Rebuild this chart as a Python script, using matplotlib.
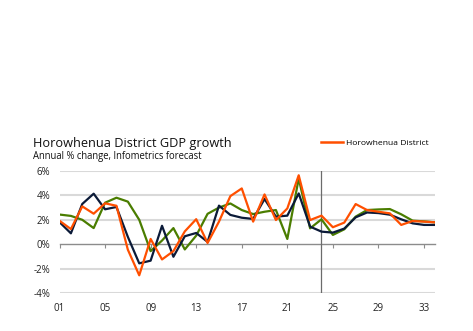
import matplotlib
matplotlib.use("Agg")
import matplotlib.pyplot as plt
from matplotlib.lines import Line2D

plt.rcParams['font.family'] = ['Open Sans', 'DejaVu Sans']

years = list(range(2001, 2035))
horowhenua = [1.92, 1.24, 3.10, 2.50, 3.35, 3.15, -0.45, -2.55, 0.43, -1.25,
              -0.57, 1.05, 2.05, 0.10, 1.85, 3.94, 4.57, 1.85, 4.08, 1.98,
              2.93, 5.65, 1.98, 2.34, 1.39, 1.77, 3.29, 2.80, 2.66, 2.53,
              1.58, 1.90, 1.85, 1.79]
navy_series = [1.81, 0.89, 3.30, 4.14, 2.86, 3.05, 0.60, -1.57, -1.35, 1.51,
               -1.03, 0.65, 0.92, 0.19, 3.16, 2.40, 2.17, 2.07, 3.70, 2.26,
               2.34, 4.16, 1.44, 1.03, 0.95, 1.28, 2.20, 2.60, 2.55, 2.42,
               2.04, 1.71, 1.58, 1.58]
green_series = [2.43, 2.32, 2.00, 1.32, 3.40, 3.81, 3.49, 2.00, -0.57, 0.30,
                1.32, -0.43, 0.70, 2.49, 3.00, 3.34, 2.80, 2.47, 2.66, 2.80,
                0.43, 5.38, 1.30, 2.04, 0.76, 1.22, 2.26, 2.80, 2.85, 2.88,
                2.45, 1.93, 1.87, 1.79]
yticks = [-4, -2, 0, 2, 4, 6]
xtick_years = list(range(2001, 2035, 4))
forecast_start = 2024

ORANGE = '#ff4f00'
NAVY = '#0b1a38'
GREEN = '#4a7d00'

fig = plt.figure(figsize=(4.73, 3.31), dpi=100)
ax = fig.add_axes([0.1258, 0.1148, 0.9205 - 0.1258, 0.4834 - 0.1148])

for y in yticks:
    if y != 0:
        ax.axhline(y, color='#d9d9d9', lw=1.5, zorder=0)
ax.axvline(forecast_start, color='#6b6b6b', lw=0.9, zorder=1)

ax.plot(years, green_series, color=GREEN, lw=1.6, zorder=3)
ax.plot(years, navy_series, color=NAVY, lw=1.6, zorder=4)
ax.plot(years, horowhenua, color=ORANGE, lw=1.6, zorder=5)

ax.set_xlim(2001, 2034)
ax.set_ylim(-4, 6)
ax.set_yticks(yticks)
ax.set_yticklabels([f"{v}%" for v in yticks])
ax.set_xticks(xtick_years)
ax.set_xticklabels([f"{y % 100:02d}" for y in xtick_years])
ax.tick_params(axis='both', length=0, labelsize=7, colors='#222222')
ax.tick_params(axis='y', pad=6.5)
ax.tick_params(axis='x', pad=7)
for s in ax.spines.values():
    s.set_visible(False)

# zero line doubles as the category axis with small tick marks
zero_axis = ax.secondary_xaxis(0.4)
zero_axis.set_xticks(xtick_years)
zero_axis.set_xticklabels([])
zero_axis.tick_params(length=3, width=0.8, color='#8c8c8c', direction='out')
zero_axis.spines['bottom'].set_color('#8c8c8c')
zero_axis.spines['bottom'].set_linewidth(1.0)

fig.text(33 / 473, 1 - 147 / 331, "Horowhenua District GDP growth",
         fontsize=9.2, va='baseline', ha='left', color='#111111')
fig.text(33 / 473, 1 - 159.5 / 331, "Annual % change, Infometrics forecast",
         fontsize=6.85, va='baseline', ha='left', color='#111111')

handle = Line2D([], [], color=ORANGE, lw=1.8)
fig.legend(handles=[handle], labels=["Horowhenua District"], loc='center left',
           bbox_to_anchor=(321 / 473, 1 - 143 / 331), frameon=False,
           borderpad=0, borderaxespad=0, handlelength=2.6, handletextpad=0.35,
           fontsize=6.1)

fig.savefig("out.png", dpi=100)
